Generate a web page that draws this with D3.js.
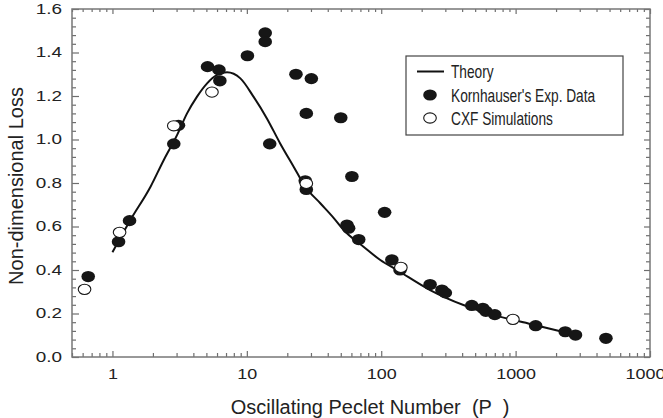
<!DOCTYPE html>
<html>
	<head>
		<meta charset="utf-8" />
		<script src="https://cdn.jsdelivr.net/npm/d3@7"></script>
		<style type="text/css">

html, body {
  margin: 0;
  padding: 0;
  background: #ffffff;
}

#chart text {
  font-family: "Liberation Sans", Arial, sans-serif;
  fill: #222222;
}

#chart .tick line {
  stroke: #6e6e6e;
  stroke-width: 1.2;
}

#chart .frame {
  fill: none;
  stroke: #777777;
  stroke-width: 1.5;
}

#chart .theory {
  fill: none;
  stroke: #111111;
  stroke-width: 2;
}

#chart .exp {
  fill: #161616;
}

#chart .sim {
  fill: #ffffff;
  stroke: #161616;
  stroke-width: 1.1;
}
		</style>
	</head>

	<body>
		<svg id="chart" width="663" height="418"></svg>
		<script type="text/javascript">

// theory curve
var theory_x = [1.0, 1.36, 1.92, 2.41, 3.03, 3.59, 4.26, 5.06, 6.0, 7.12, 8.95, 11.2, 14.1, 17.7, 22.3, 27.2, 35.2, 44.2, 52.5, 73.8, 98.4, 131, 231, 409, 724, 1282, 2543, 2800];
var theory_y = [0.482, 0.63, 0.783, 0.906, 1.021, 1.12, 1.197, 1.258, 1.297, 1.309, 1.281, 1.197, 1.097, 0.982, 0.875, 0.783, 0.707, 0.64, 0.584, 0.507, 0.446, 0.40, 0.308, 0.239, 0.189, 0.152, 0.109, 0.104];

// Kornhauser's experimental data
var exp_x = [0.66, 1.11, 1.34, 2.86, 3.1, 5.1, 6.2, 6.3, 10.1, 13.7, 13.7, 14.8, 23.2, 27.7, 27.2, 27.7, 30.2, 50, 55.6, 57.2, 60.5, 68, 106, 120, 138, 231, 283, 300, 472, 570, 600, 700, 1410, 2340, 2790, 4700];
var exp_y = [0.37, 0.53, 0.627, 0.98, 1.065, 1.335, 1.32, 1.27, 1.385, 1.49, 1.45, 0.98, 1.30, 1.12, 0.81, 0.77, 1.28, 1.10, 0.607, 0.592, 0.83, 0.54, 0.665, 0.447, 0.40, 0.333, 0.308, 0.295, 0.237, 0.224, 0.21, 0.195, 0.144, 0.116, 0.101, 0.086];

// CXF simulations
var sim_x = [0.62, 1.13, 2.86, 5.5, 27.7, 140, 955];
var sim_y = [0.311, 0.573, 1.063, 1.218, 0.798, 0.412, 0.173];

var x_major = [1, 10, 100, 1000, 10000];
var y_major = [0, 0.2, 0.4, 0.6, 0.8, 1.0, 1.2, 1.4, 1.6];

var legend_labels = ["Theory", "Kornhauser's Exp. Data", "CXF Simulations"];

var x_title = "Oscillating Peclet Number  (P  )";
var y_title = "Non-dimensional Loss";

var margin = {left: 72, right: 13, top: 9, bottom: 61};
var width = 663, height = 418;

var svg = d3.select("#chart");

var x = d3.scaleLog()
	.domain([0.5, 10000])
	.range([margin.left, width - margin.right]);

var y = d3.scaleLinear()
	.domain([0, 1.6])
	.range([height - margin.bottom, margin.top]);

// minor ticks: 2..9 in each decade, plus 0.5..0.9
var x_minor = [];
[0.1, 1, 10, 100, 1000].forEach(function(d) {
	for (var k = 2; k <= 9; k++) {
		var v = k * d;
		if (v >= 0.5 && v < 10000) x_minor.push(v);
	}
});
var y_minor = d3.range(0, 41).map(function(i) { return i * 0.04; })
	.filter(function(v) { return Math.abs(v * 5 - Math.round(v * 5)) > 1e-6; });

var x0 = x.range()[0], x1 = x.range()[1];
var y0 = y.range()[0], y1 = y.range()[1];

function no_domain(g) { g.select(".domain").remove(); }

// bottom
svg.append("g").attr("transform", "translate(0," + y0 + ")")
	.call(d3.axisBottom(x).tickValues(x_minor).tickSize(-4).tickFormat(""))
	.call(no_domain);
var xb = svg.append("g").attr("transform", "translate(0," + y0 + ")")
	.call(d3.axisBottom(x).tickValues(x_major).tickSize(-6).tickPadding(12)
		.tickFormat(d3.format("d")))
	.call(no_domain);
xb.selectAll("text").style("font-size", "14px");

// top
svg.append("g").attr("transform", "translate(0," + y1 + ")")
	.call(d3.axisTop(x).tickValues(x_minor).tickSize(-3).tickFormat(""))
	.call(no_domain);
svg.append("g").attr("transform", "translate(0," + y1 + ")")
	.call(d3.axisTop(x).tickValues(x_major).tickSize(-5).tickFormat(""))
	.call(no_domain);

// left
svg.append("g").attr("transform", "translate(" + x0 + ",0)")
	.call(d3.axisLeft(y).tickValues(y_minor).tickSize(-4).tickFormat(""))
	.call(no_domain);
var yl = svg.append("g").attr("transform", "translate(" + x0 + ",0)")
	.call(d3.axisLeft(y).tickValues(y_major).tickSize(-7).tickPadding(10)
		.tickFormat(d3.format(".1f")))
	.call(no_domain);
yl.selectAll("text").style("font-size", "14px");

// right
svg.append("g").attr("transform", "translate(" + x1 + ",0)")
	.call(d3.axisRight(y).tickValues(y_minor).tickSize(-4).tickFormat(""))
	.call(no_domain);
svg.append("g").attr("transform", "translate(" + x1 + ",0)")
	.call(d3.axisRight(y).tickValues(y_major).tickSize(-6).tickFormat(""))
	.call(no_domain);

// tick labels in the picture are drawn wide
function stretch(sel, f) {
	sel.each(function() {
		var w = this.getComputedTextLength();
		d3.select(this).attr("textLength", w * f).attr("lengthAdjust", "spacingAndGlyphs");
	});
}
stretch(xb.selectAll("text"), 1.28);
stretch(yl.selectAll("text"), 1.35);

svg.append("rect")
	.attr("class", "frame")
	.attr("x", x0).attr("y", y1)
	.attr("width", x1 - x0).attr("height", y0 - y1);

// theory line
var theory = theory_x.map(function(d, i) { return [d, theory_y[i]]; });
var line = d3.line()
	.x(function(d) { return x(d[0]); })
	.y(function(d) { return y(d[1]); })
	.curve(d3.curveMonotoneX);

svg.append("path")
	.datum(theory)
	.attr("class", "theory")
	.attr("d", line);

var rx = 6.8, ry = 5.6;

svg.append("g").selectAll("ellipse")
	.data(exp_x.map(function(d, i) { return [d, exp_y[i]]; }))
	.enter().append("ellipse")
	.attr("class", "exp")
	.attr("cx", function(d) { return x(d[0]); })
	.attr("cy", function(d) { return y(d[1]); })
	.attr("rx", rx).attr("ry", ry);

svg.append("g").selectAll("ellipse")
	.data(sim_x.map(function(d, i) { return [d, sim_y[i]]; }))
	.enter().append("ellipse")
	.attr("class", "sim")
	.attr("cx", function(d) { return x(d[0]); })
	.attr("cy", function(d) { return y(d[1]); })
	.attr("rx", rx - 0.5).attr("ry", ry - 0.5);

// legend
var lg = svg.append("g").attr("transform", "translate(406,56)");
lg.append("rect")
	.attr("width", 217).attr("height", 79)
	.attr("fill", "#ffffff")
	.attr("stroke", "#444444")
	.attr("stroke-width", 1.2);

var row_y = [15.5, 39, 62];
lg.append("line")
	.attr("class", "theory")
	.attr("x1", 11).attr("x2", 38)
	.attr("y1", row_y[0]).attr("y2", row_y[0]);
lg.append("ellipse").attr("class", "exp")
	.attr("cx", 24).attr("cy", row_y[1]).attr("rx", rx).attr("ry", ry);
lg.append("ellipse").attr("class", "sim")
	.attr("cx", 24).attr("cy", row_y[2]).attr("rx", rx - 0.5).attr("ry", ry - 0.5);

var lt = lg.selectAll("text.lab")
	.data(legend_labels)
	.enter().append("text")
	.attr("class", "lab")
	.attr("x", 45)
	.attr("y", function(d, i) { return row_y[i]; })
	.attr("dy", "0.36em")
	.style("font-size", "18.5px")
	.text(function(d) { return d; });
stretch(lt, 0.74);

// axis titles
svg.append("text")
	.attr("x", 370)
	.attr("y", 414)
	.attr("text-anchor", "middle")
	.style("font-size", "20px")
	.style("white-space", "pre")
	.text(x_title);

svg.append("text")
	.attr("transform", "translate(23,186) rotate(-90)")
	.attr("text-anchor", "middle")
	.style("font-size", "20px")
	.text(y_title);

		</script>
	</body>
</html>
